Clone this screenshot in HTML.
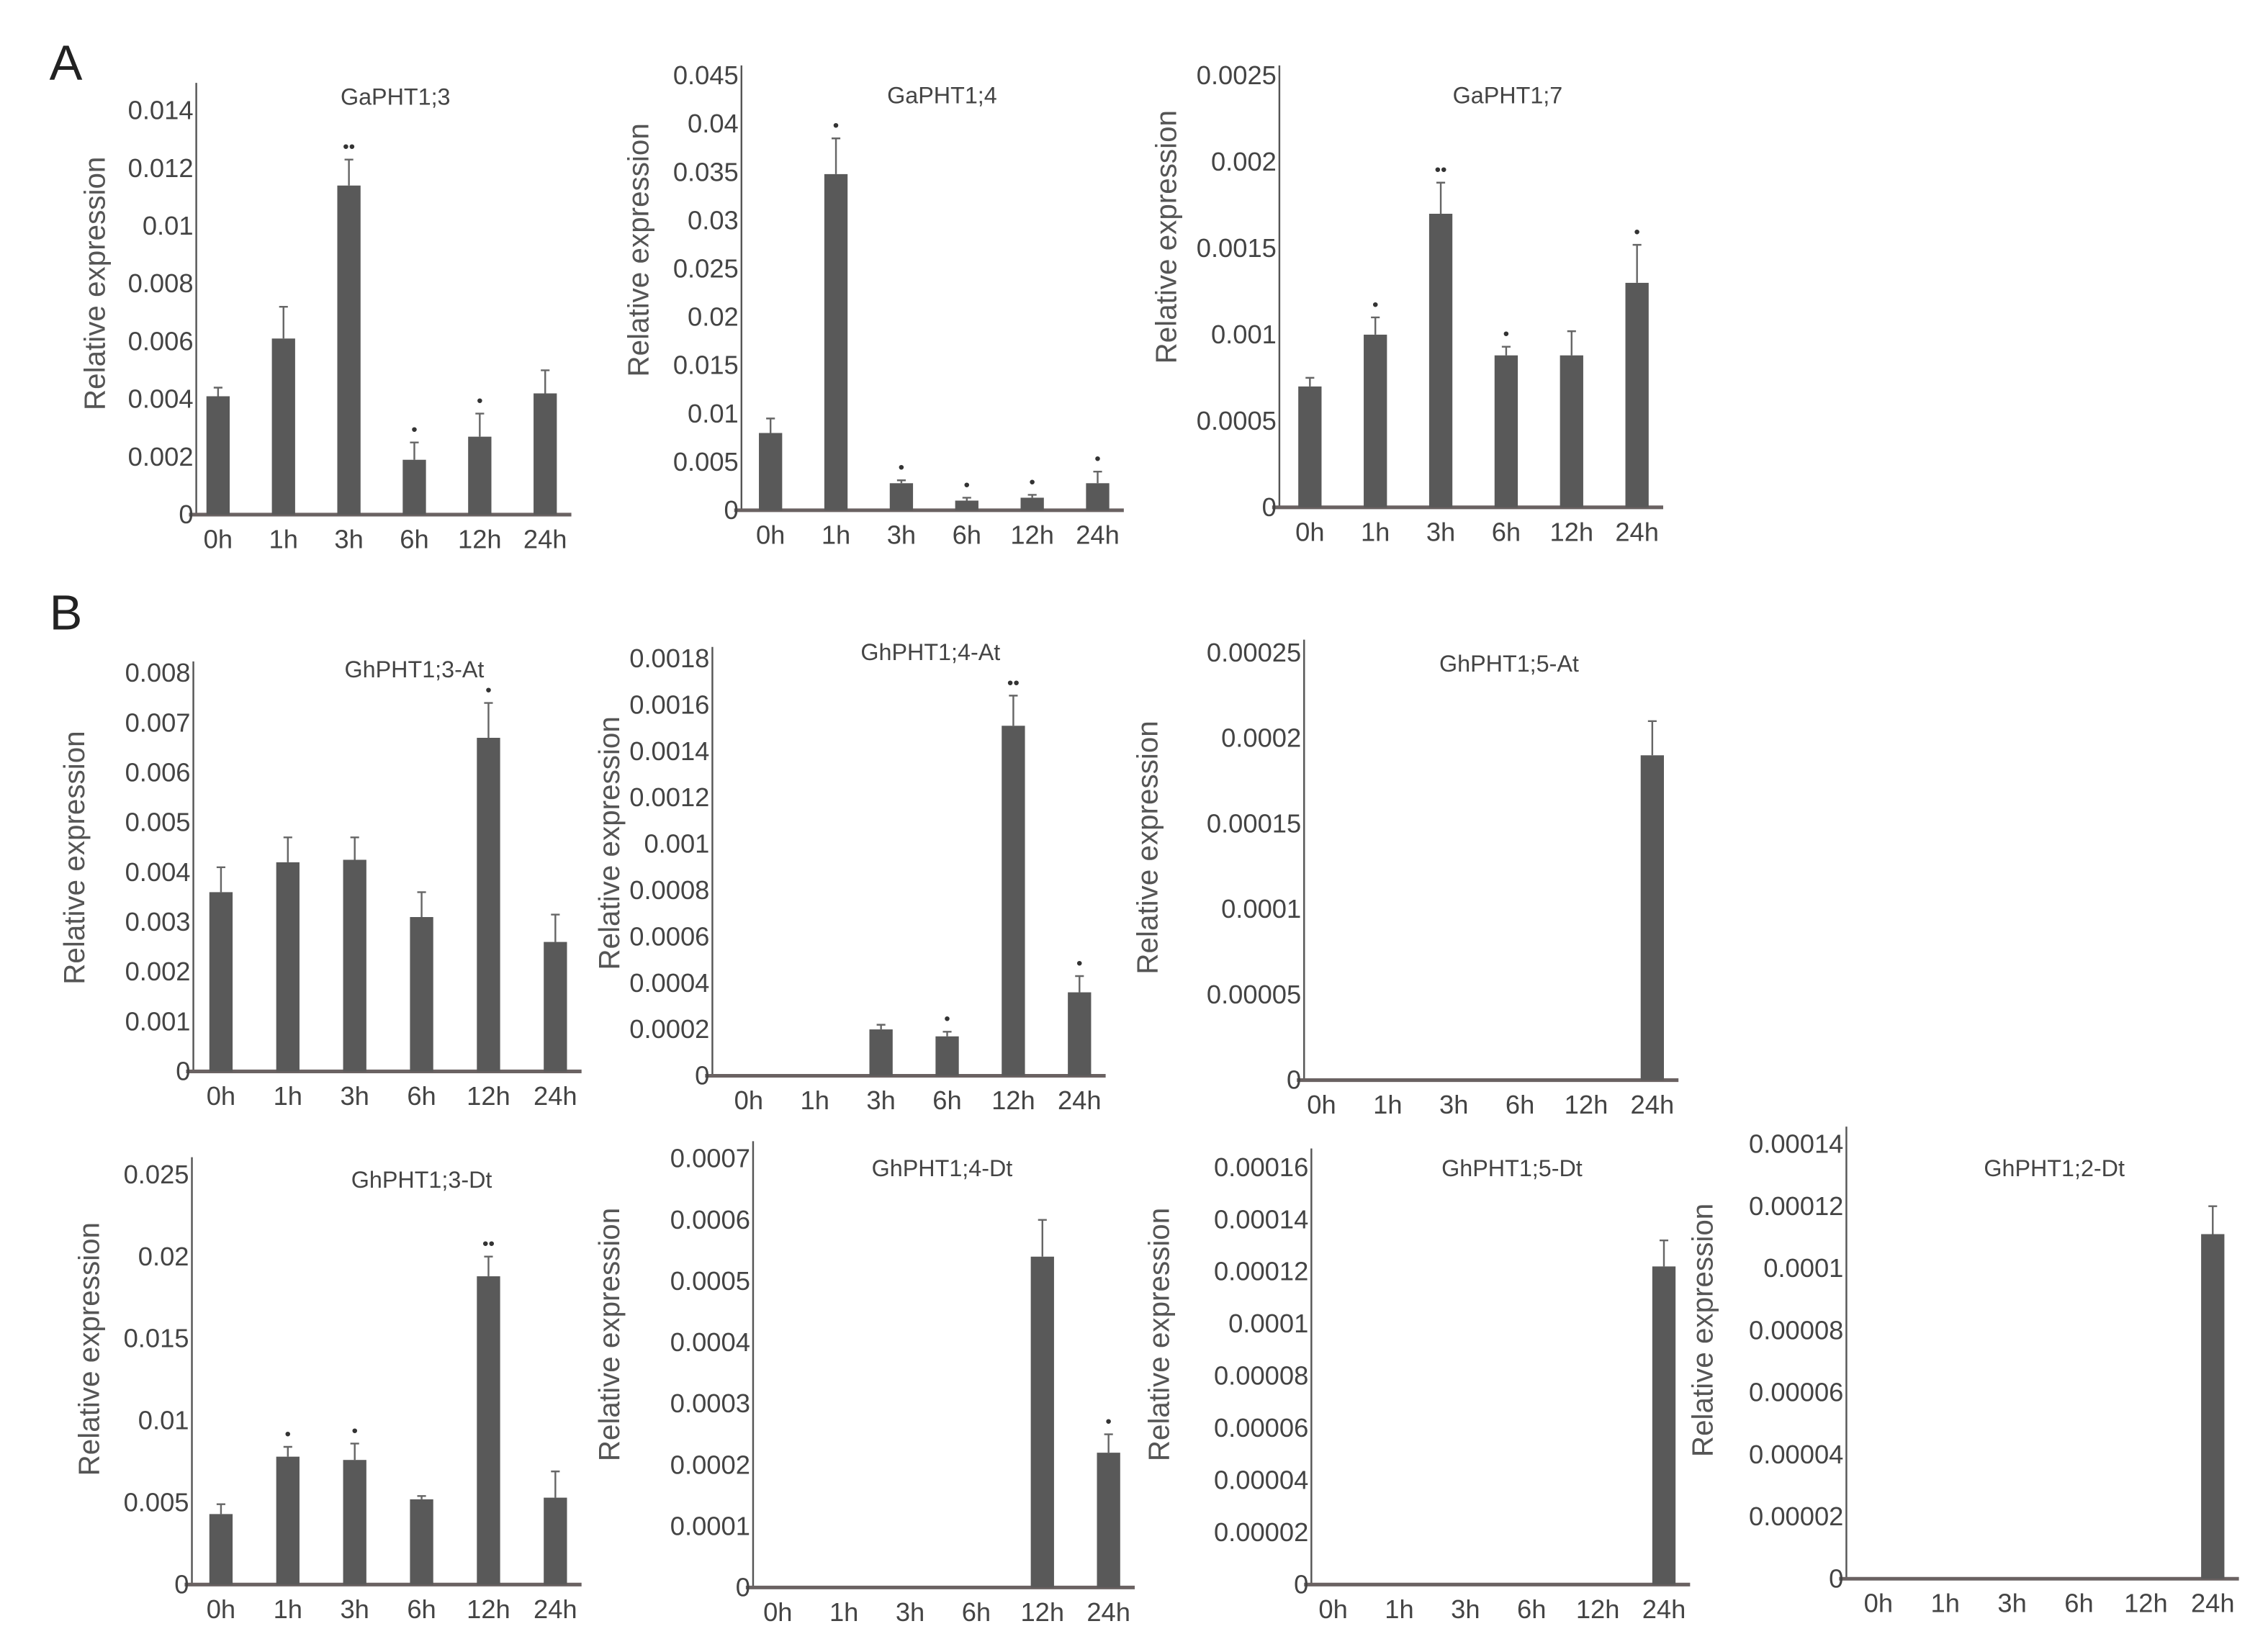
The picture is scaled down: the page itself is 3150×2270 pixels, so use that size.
<!DOCTYPE html>
<html><head><meta charset="utf-8"><style>
html,body{margin:0;padding:0;background:#fff}
svg{display:block}
text{font-family:"Liberation Sans","DejaVu Sans",sans-serif}
.tk{font-family:"Liberation Sans Narrow","Liberation Sans",sans-serif;fill:#444;font-size:18px}
.tt{font-family:"Liberation Sans Narrow","Liberation Sans",sans-serif;fill:#444;font-size:16px}
.yt{fill:#555;font-size:20px}
</style></head><body>
<svg id="fig" width="3150" height="2270" viewBox="0 0 1560 1124" preserveAspectRatio="none" xmlns="http://www.w3.org/2000/svg">
<text x="34" y="55" font-size="34" fill="#222">A</text>
<text x="34" y="433" font-size="34" fill="#222">B</text>
</svg>
<script>
const categories = ["0h","1h","3h","6h","12h","24h"];
// values per panel
const vGa3 = [0.0041,0.0061,0.0114,0.0019,0.0027,0.0042];
const eGa3 = [0.0003,0.0011,0.0009,0.0006,0.0008,0.0008];
const sGa3 = ["","","••","•","•",""];
const tGa3 = ["0","0.002","0.004","0.006","0.008","0.01","0.012","0.014"];
const vGa4 = [0.008,0.0348,0.0028,0.0010,0.0013,0.0028];
const eGa4 = [0.0015,0.0037,0.0003,0.0003,0.0003,0.0012];
const sGa4 = ["","•","•","•","•","•"];
const tGa4 = ["0","0.005","0.01","0.015","0.02","0.025","0.03","0.035","0.04","0.045"];
const vGa7 = [0.0007,0.001,0.0017,0.00088,0.00088,0.0013];
const eGa7 = [0.00005,0.0001,0.00018,0.00005,0.00014,0.00022];
const sGa7 = ["","•","••","•","","•"];
const tGa7 = ["0","0.0005","0.001","0.0015","0.002","0.0025"];
const vGh3A = [0.0036,0.0042,0.00425,0.0031,0.0067,0.0026];
const eGh3A = [0.0005,0.0005,0.00045,0.0005,0.0007,0.00055];
const sGh3A = ["","","","","•",""];
const tGh3A = ["0","0.001","0.002","0.003","0.004","0.005","0.006","0.007","0.008"];
const vGh4A = [0,0,0.0002,0.00017,0.00151,0.00036];
const eGh4A = [0,0,0.00002,0.00002,0.00013,0.00007];
const sGh4A = ["","","","•","••","•"];
const tGh4A = ["0","0.0002","0.0004","0.0006","0.0008","0.001","0.0012","0.0014","0.0016","0.0018"];
const vGh5A = [0,0,0,0,0,0.00019];
const eGh5A = [0,0,0,0,0,0.00002];
const sGh5A = ["","","","","",""];
const tGh5A = ["0","0.00005","0.0001","0.00015","0.0002","0.00025"];
const vGh3D = [0.0043,0.0078,0.0076,0.0052,0.0188,0.0053];
const eGh3D = [0.0006,0.0006,0.0010,0.0002,0.0012,0.0016];
const sGh3D = ["","•","•","","••",""];
const tGh3D = ["0","0.005","0.01","0.015","0.02","0.025"];
const vGh4D = [0,0,0,0,0.00054,0.00022];
const eGh4D = [0,0,0,0,0.00006,0.00003];
const sGh4D = ["","","","","","•"];
const tGh4D = ["0","0.0001","0.0002","0.0003","0.0004","0.0005","0.0006","0.0007"];
const vGh5D = [0,0,0,0,0,0.000122];
const eGh5D = [0,0,0,0,0,0.00001];
const sGh5D = ["","","","","",""];
const tGh5D = ["0","0.00002","0.00004","0.00006","0.00008","0.0001","0.00012","0.00014","0.00016"];
const vGh2D = [0,0,0,0,0,0.000111];
const eGh2D = [0,0,0,0,0,0.000009];
const sGh2D = ["","","","","",""];
const tGh2D = ["0","0.00002","0.00004","0.00006","0.00008","0.0001","0.00012","0.00014"];

const NS="http://www.w3.org/2000/svg";
const svg=document.getElementById('fig');
function mk(tag,attrs,parent){const e=document.createElementNS(NS,tag);for(const k in attrs)e.setAttribute(k,attrs[k]);parent.appendChild(e);return e;}

function panel(cfg,vals,errs,stars,ticks){
  const g=mk('g',{},svg);
  
  
  const max=parseFloat(ticks[ticks.length-1]);
  const y=v=>cfg.y0-(v/max)*(cfg.y0-cfg.yTop);
  const x=i=>cfg.x0+cfg.dx*i;
  const ax=mk('line',{x1:cfg.ax,y1:cfg.top,x2:cfg.ax,y2:cfg.y0,stroke:'#555','stroke-width':1.2},g);
  
  
  const bx=mk('line',{x1:cfg.ax-5,y1:cfg.y0,x2:x(5)+18,y2:cfg.y0,stroke:'#6a6262','stroke-width':2.5},g);
  
  
  ticks.forEach(t=>{
    const tx=mk('text',{x:cfg.ax-2,y:y(parseFloat(t))+6,'text-anchor':'end',class:'tk'},g);
    tx.textContent=t;
    
    
  });
  categories.forEach((c,i)=>{
    const tx=mk('text',{x:x(i),y:cfg.y0+23,'text-anchor':'middle',class:'tk'},g);
    tx.textContent=c;
    
    
    if(vals[i]>0){
      const r=mk('rect',{x:x(i)-8,y:y(vals[i]),width:16,height:cfg.y0-y(vals[i]),fill:'#595959'},g);
      
      
      const et=y(vals[i]+errs[i]);
      const el=mk('path',{d:`M${x(i)} ${y(vals[i])}V${et}M${x(i)-3} ${et}H${x(i)+3}`,stroke:'#666','stroke-width':1.2,fill:'none'},g);
      
      
      if(stars[i]){
        const s=mk('text',{x:x(i),y:et-5,'text-anchor':'middle','font-size':12,fill:'#333'},g);
        s.textContent=stars[i];
        
        
      }
    }
  });
  const ti=mk('text',{x:cfg.tx,y:cfg.ty,'text-anchor':'middle',class:'tt'},g);
  ti.textContent=cfg.title;
  
  
  const yt=mk('text',{x:0,y:0,'text-anchor':'middle',class:'yt',transform:`translate(${cfg.ytx},${cfg.yty}) rotate(-90)`},g);
  yt.textContent='Relative expression';
  
  
}
panel({id:'gapht1-3',ax:135,top:57,y0:354,yTop:76,x0:150,dx:45,tx:272,ty:72,title:'GaPHT1;3',ytx:72,yty:195},vGa3,eGa3,sGa3,tGa3);
panel({id:'gapht1-4',ax:510,top:45,y0:351,yTop:52,x0:530,dx:45,tx:648,ty:71,title:'GaPHT1;4',ytx:446,yty:172},vGa4,eGa4,sGa4,tGa4);
panel({id:'gapht1-7',ax:880,top:45,y0:349,yTop:52,x0:901,dx:45,tx:1037,ty:71,title:'GaPHT1;7',ytx:809,yty:163},vGa7,eGa7,sGa7,tGa7);
panel({id:'ghpht1-3-at',ax:133,top:455,y0:737,yTop:463,x0:152,dx:46,tx:285,ty:466,title:'GhPHT1;3-At',ytx:58,yty:590},vGh3A,eGh3A,sGh3A,tGh3A);
panel({id:'ghpht1-4-at',ax:490,top:445,y0:740,yTop:453,x0:515,dx:45.5,tx:640,ty:454,title:'GhPHT1;4-At',ytx:426,yty:580},vGh4A,eGh4A,sGh4A,tGh4A);
panel({id:'ghpht1-5-at',ax:897,top:440,y0:743,yTop:449,x0:909,dx:45.5,tx:1038,ty:462,title:'GhPHT1;5-At',ytx:796,yty:583},vGh5A,eGh5A,sGh5A,tGh5A);
panel({id:'ghpht1-3-dt',ax:132,top:796,y0:1090,yTop:808,x0:152,dx:46,tx:290,ty:817,title:'GhPHT1;3-Dt',ytx:68,yty:928},vGh3D,eGh3D,sGh3D,tGh3D);
panel({id:'ghpht1-4-dt',ax:518,top:785,y0:1092,yTop:797,x0:535,dx:45.5,tx:648,ty:809,title:'GhPHT1;4-Dt',ytx:426,yty:918},vGh4D,eGh4D,sGh4D,tGh4D);
panel({id:'ghpht1-5-dt',ax:902,top:790,y0:1090,yTop:803,x0:917,dx:45.5,tx:1040,ty:809,title:'GhPHT1;5-Dt',ytx:804,yty:918},vGh5D,eGh5D,sGh5D,tGh5D);
panel({id:'ghpht1-2-dt',ax:1270,top:775,y0:1086,yTop:787,x0:1292,dx:46,tx:1413,ty:809,title:'GhPHT1;2-Dt',ytx:1178,yty:915},vGh2D,eGh2D,sGh2D,tGh2D);
</script>
</body></html>
